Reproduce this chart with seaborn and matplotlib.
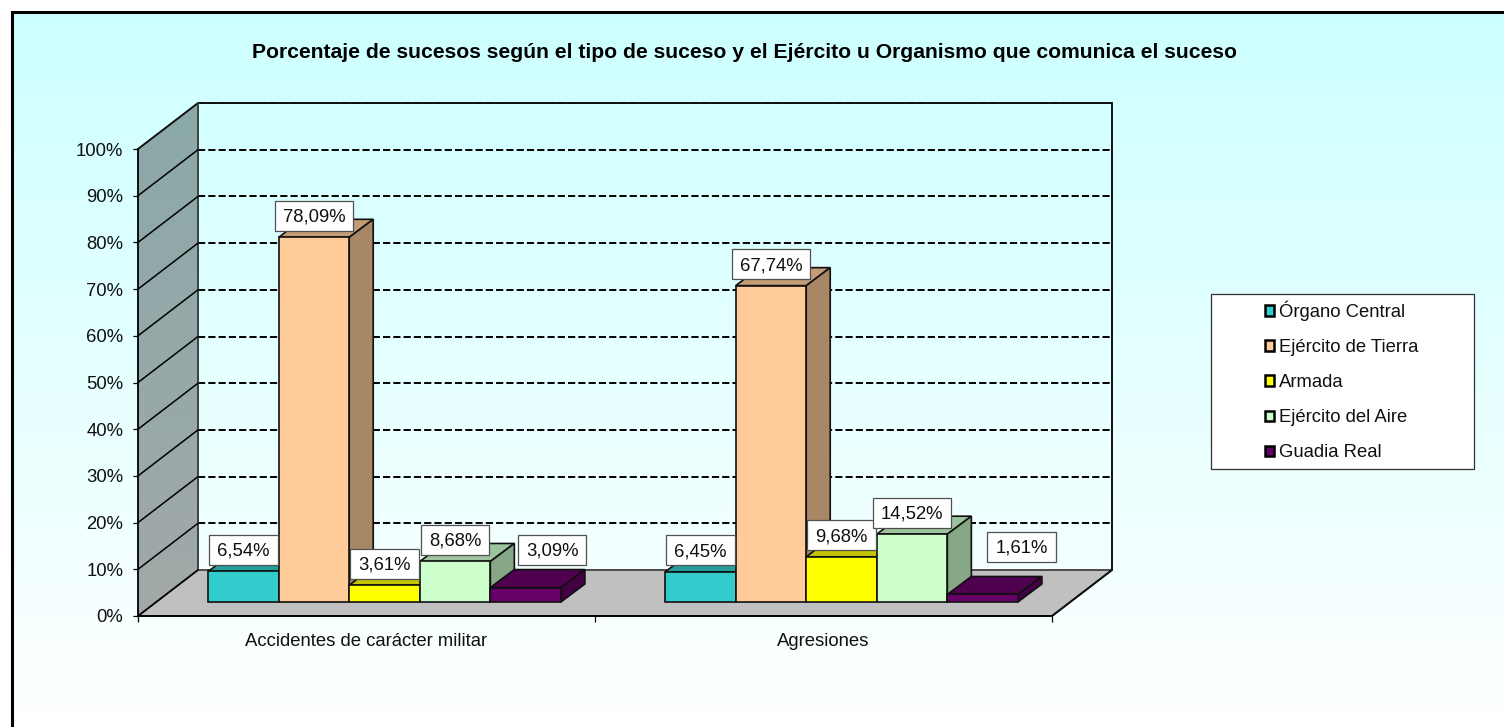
import matplotlib
matplotlib.use("Agg")
import matplotlib.pyplot as plt
import numpy as np
import pandas as pd
import seaborn as sns
from matplotlib.colors import LinearSegmentedColormap, to_rgb
from matplotlib.patches import Patch, Polygon, Rectangle
from matplotlib.path import Path

categories = ["Accidentes de carácter militar", "Agresiones"]
organismos = ["Órgano Central", "Ejército de Tierra", "Armada", "Ejército del Aire", "Guadia Real"]
colors = ["#33CCCC", "#FFCC99", "#FFFF00", "#CCFFCC", "#660066"]
accidentes = [6.54, 78.09, 3.61, 8.68, 3.09]
agresiones = [6.45, 67.74, 9.68, 14.52, 1.61]
y_ticks = list(range(0, 101, 10))
title = "Porcentaje de sucesos según el tipo de suceso y el Ejército u Organismo que comunica el suceso"
# manual label moves, pixels (series index, category index) -> (dx, dy)
label_moves = {(4, 0): (26.5, 36.5), (4, 1): (39, 46)}

W, H = 1504, 727
sns.set_theme(style="white")
plt.rcParams["font.family"] = ["Liberation Sans", "DejaVu Sans"]
plt.rcParams["lines.scale_dashes"] = False
FS = 13.3

fig = plt.figure(figsize=(W / 100, H / 100), dpi=100, facecolor="white")

# background gradient and outer frame
bg = fig.add_axes([0, 0, 1, 1], zorder=0)
bg.set_xlim(0, W)
bg.set_ylim(H, 0)
bg.axis("off")
cmap = LinearSegmentedColormap.from_list("bg", ["#CCFFFF", "#FFFFFF"])
bg.imshow(np.linspace(0, 1, 256)[:, None], extent=(12, W, H, 12), aspect="auto", cmap=cmap, zorder=0)
bg.plot([11.5, 11.5, W + 5], [H + 5, 11.5, 11.5], color="black", lw=2.2, solid_joinstyle="miter", zorder=1)
bg.add_patch(Rectangle((1210.5, 293.5), 263, 175, fc="white", ec="#303030", lw=0.9, zorder=2))

# main axes: front plane of the 3D box
ax = fig.add_axes([138 / W, (H - 616) / H, 914 / W, 467 / H], zorder=1)
ax.patch.set_visible(False)

df = pd.DataFrame({
    "categoria": np.repeat(categories, len(organismos)),
    "organismo": organismos * 2,
    "valor": accidentes + agresiones,
})
sns.barplot(data=df, x="categoria", y="valor", hue="organismo", order=categories, hue_order=organismos,
            palette=colors, saturation=1, width=0.772, gap=0, dodge=True, edgecolor="#101010", linewidth=1.2,
            legend=False, ax=ax, clip_on=False)
ax.set_xlim(-0.5, 1.5)
ax.set_ylim(0, 100)
px_x = 2 / 914  # data units per pixel
px_y = 100 / 467
wall_dx, wall_dy = 60 * px_x, 46 * px_y
xl, xr = -0.5, 1.5

# walls and floor
ax.add_patch(Polygon([(xl, 0), (xr, 0), (xr + wall_dx, wall_dy), (xl + wall_dx, wall_dy)], closed=True,
                     fc="#C0C0C0", ec="#303030", lw=1.2, zorder=1, clip_on=False))
ax.add_patch(Polygon([(xl, 0), (xl + wall_dx, wall_dy), (xl + wall_dx, 100 + wall_dy), (xl, 100)], closed=True,
                     fc=(0, 0, 0, 0.34), ec="none", zorder=1, clip_on=False))
outline = dict(color="#101010", lw=1.4, zorder=1.5, clip_on=False, solid_joinstyle="miter")
ax.plot([xl, xl + wall_dx, xr + wall_dx, xr + wall_dx, xr], [100, 100 + wall_dy, 100 + wall_dy, wall_dy, 0], **outline)
ax.plot([xl + wall_dx] * 2, [wall_dy, 100 + wall_dy], color="#404040", lw=1.4, zorder=1.5, clip_on=False)
ax.plot([xl + wall_dx, xr + wall_dx], [wall_dy, wall_dy], color="#505050", lw=1.2, zorder=1.4, clip_on=False)
for t in y_ticks[1:]:
    ax.plot([xl + wall_dx, xr + wall_dx], [t + wall_dy, t + wall_dy], color="black", lw=1.4,
            linestyle=(0, (5.2, 2.2)), zorder=1.3, clip_on=False)
for t in y_ticks[:-1]:
    ax.plot([xl, xl + wall_dx], [t, t + wall_dy], color="black", lw=1.1, zorder=1.5, clip_on=False)

# 3D bars: bars stand 0.3 of the way into the box and are 0.4 of it deep
near_dx, near_dy = 18 * px_x, 14 * px_y
deep_dx, deep_dy = 24 * px_x, 18 * px_y
labels_to_draw = []
for i, cont in enumerate(ax.containers):
    rgb = np.array(to_rgb(colors[i]))
    for j, bar in enumerate(cont.patches):
        x0 = bar.get_x() + near_dx
        y0 = near_dy
        w, h = bar.get_width(), bar.get_height()
        bar.set_x(x0)
        bar.set_y(y0)
        z = 3 + i + 0.2
        bar.set_zorder(z)
        bar.set_clip_on(False)
        top = y0 + h
        ax.add_patch(Polygon([(x0, top), (x0 + w, top), (x0 + w + deep_dx, top + deep_dy), (x0 + deep_dx, top + deep_dy)],
                             closed=True, fc=rgb * 0.77, ec="#101010", lw=1.2, zorder=z - 0.1, clip_on=False))
        ax.add_patch(Polygon([(x0 + w, y0), (x0 + w + deep_dx, y0 + deep_dy), (x0 + w + deep_dx, top + deep_dy), (x0 + w, top)],
                             closed=True, fc=rgb * 0.66, ec="#101010", lw=1.2, zorder=z - 0.1, clip_on=False))
        labels_to_draw.append((i, j, x0 + w / 2, top, h))


def label_box(x0, y0, width, height, mutation_size):
    pad_x = 8
    cy = y0 + height / 2 + 1.5
    half = 15
    return Path([(x0 - pad_x, cy - half), (x0 + width + pad_x, cy - half), (x0 + width + pad_x, cy + half),
                 (x0 - pad_x, cy + half), (x0 - pad_x, cy - half)], closed=True)


for i, j, xc, top, h in labels_to_draw:
    dx, dy = label_moves.get((i, j), (0, 20))
    txt = f"{h:.2f}%".replace(".", ",")
    ax.annotate(txt, xy=(xc, top), xytext=(dx, dy), textcoords="offset pixels", ha="center", va="center",
                fontsize=FS, color="#101010", zorder=20, annotation_clip=False,
                bbox=dict(boxstyle=label_box, fc="white", ec="#505050", lw=0.9))

# axes
for s in ["top", "right"]:
    ax.spines[s].set_visible(False)
for s in ["left", "bottom"]:
    ax.spines[s].set_visible(True)
    ax.spines[s].set_color("black")
    ax.spines[s].set_linewidth(1.3)
    ax.spines[s].set_zorder(2)
ax.set_xlabel("")
ax.set_ylabel("")
ax.set_yticks(y_ticks)
ax.set_yticklabels([f"{t}%" for t in y_ticks])
ax.set_xticks([0, 1])
ax.set_xticklabels(categories)
ax.set_xticks([-0.5, 0.5, 1.5], minor=True)
ax.tick_params(axis="y", which="major", left=True, length=3.6, width=0.9, color="black", labelsize=FS, pad=7, labelcolor="#101010")
ax.tick_params(axis="x", which="major", bottom=False, length=0, labelsize=FS, pad=12.5, labelcolor="#101010")
ax.tick_params(axis="x", which="minor", bottom=True, length=4, width=0.9, color="black")

fig.text(745 / W, 1 - 53 / H, title, ha="center", va="center", fontsize=15.24, fontweight="bold", color="black")

# legend
handles = [Patch(facecolor=c.patches[0].get_facecolor(), edgecolor="black", linewidth=1.8, label=n)
           for c, n in zip(ax.containers, organismos)]
leg = fig.legend(handles=handles, loc="center left", bbox_to_anchor=(1264.5 / W, 1 - 381 / H), frameon=False,
                 fontsize=FS, borderpad=0, borderaxespad=0, labelspacing=0.98, handlelength=0.5, handleheight=0.5,
                 handletextpad=0.28, labelcolor="#101010")
leg.set_zorder(5)

fig.savefig("out.png", dpi=100, facecolor="white")
